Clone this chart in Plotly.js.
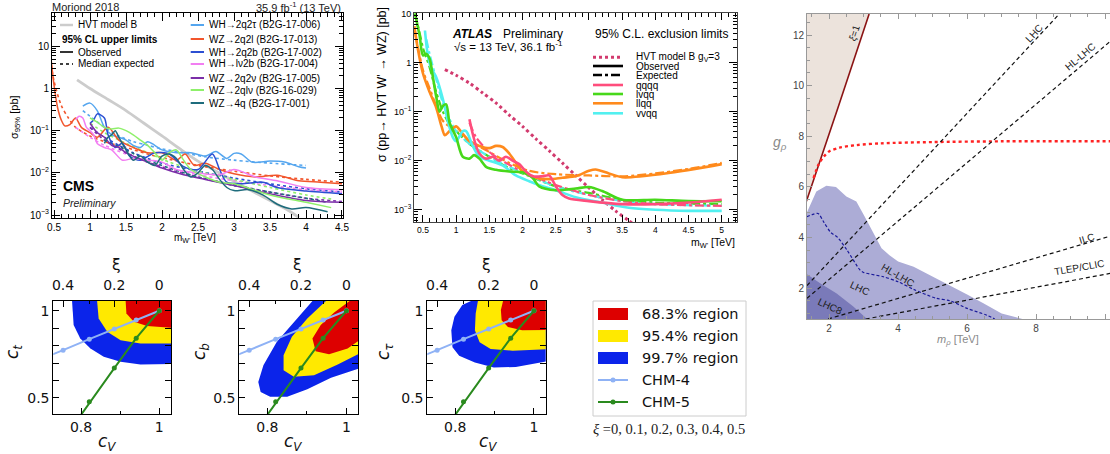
<!DOCTYPE html>
<html><head><meta charset="utf-8">
<script src="https://cdn.plot.ly/plotly-3.0.1.min.js"></script>
<style>html,body{margin:0;padding:0;background:#fff;overflow:hidden}#plot{width:1110px;height:454px}</style>
</head><body><div id="plot"></div>
<script>
// ================= DATA =================
// --- CMS panel (mass in TeV, sigma in pb) ---
const cmsHvtM = [0.82,1.0,1.25,1.5,1.75,2.0,2.25,2.5,2.75,3.0,3.25,3.5,3.75,3.9];
const cmsHvtS = [1.6,1.0,0.55,0.3,0.15,0.075,0.037,0.019,0.011,0.0063,0.0037,0.0022,0.0013,0.00088];

const cms2q2tauObsM = [0.9,1.0,1.1,1.2,1.3,1.4,1.5,1.6,1.7,1.8,1.9,2.0,2.2,2.4,2.6,2.75,2.9,3.0,3.1,3.25,3.5,3.7,3.9,4.0];
const cms2q2tauObsS = [0.38,0.45,0.3,0.12,0.08,0.07,0.06,0.045,0.04,0.055,0.045,0.035,0.03,0.03,0.025,0.032,0.022,0.029,0.028,0.018,0.019,0.018,0.014,0.013];
const cms2q2tauExpM = [0.9,1.0,1.2,1.4,1.6,1.8,2.0,2.3,2.6,3.0,3.5,4.0];
const cms2q2tauExpS = [0.3,0.22,0.12,0.075,0.055,0.045,0.037,0.03,0.024,0.02,0.017,0.015];

const cms2q2lObsM = [0.45,0.5,0.55,0.6,0.65,0.72,0.8,0.88,1.0,1.1,1.25,1.4,1.6,1.8,2.0,2.2,2.32,2.45,2.6,2.8,3.0,3.3,3.6,3.9,4.2,4.5];
const cms2q2lObsS = [7,1.2,0.35,0.18,0.13,0.14,0.2,0.12,0.09,0.07,0.12,0.06,0.04,0.03,0.03,0.02,0.028,0.015,0.017,0.012,0.0095,0.008,0.0088,0.0065,0.006,0.0055];
const cms2q2lExpM = [0.45,0.5,0.6,0.7,0.8,1.0,1.2,1.5,1.8,2.1,2.5,3.0,3.5,4.0,4.5];
const cms2q2lExpS = [5,1.5,0.4,0.2,0.12,0.075,0.055,0.04,0.028,0.021,0.015,0.011,0.0085,0.007,0.006];

const cms2q2bObsM = [1.0,1.05,1.1,1.2,1.25,1.35,1.45,1.55,1.7,1.9,2.1,2.3,2.5,2.7,2.8,2.9,3.1,3.4,3.6,4.0,4.5];
const cms2q2bObsS = [0.15,0.18,0.25,0.2,0.08,0.04,0.05,0.025,0.02,0.03,0.028,0.014,0.012,0.028,0.012,0.006,0.0055,0.006,0.0045,0.0037,0.0032];
const cms2q2bExpM = [1.0,1.2,1.4,1.6,1.8,2.0,2.5,3.0,3.5,4.0,4.5];
const cms2q2bExpS = [0.12,0.07,0.045,0.03,0.022,0.017,0.011,0.0075,0.0055,0.0042,0.0035];

const cmsLv2bObsM = [0.8,0.85,0.9,0.95,1.0,1.05,1.1,1.2,1.3,1.45,1.6,1.8,2.0,2.2,2.5,2.8,3.0,3.3,3.6,4.0,4.5];
const cmsLv2bObsS = [0.18,0.22,0.2,0.12,0.1,0.08,0.05,0.04,0.035,0.02,0.022,0.02,0.018,0.012,0.01,0.009,0.012,0.008,0.0065,0.0045,0.004];
const cmsLv2bExpM = [0.8,1.0,1.2,1.5,1.8,2.1,2.5,3.0,3.5,4.0,4.5];
const cmsLv2bExpS = [0.12,0.07,0.045,0.028,0.018,0.013,0.009,0.0065,0.005,0.004,0.0035];

const cms2q2nuObsM = [1.0,1.1,1.2,1.3,1.4,1.5,1.6,1.8,2.0,2.3,2.6,3.0,3.5,4.0,4.5];
const cms2q2nuObsS = [0.15,0.09,0.07,0.045,0.04,0.03,0.025,0.018,0.013,0.009,0.007,0.005,0.0032,0.0022,0.002];
const cms2q2nuExpM = [1.0,1.2,1.5,1.8,2.1,2.5,3.0,3.5,4.0,4.5];
const cms2q2nuExpS = [0.12,0.06,0.03,0.018,0.012,0.008,0.0052,0.0035,0.0025,0.0021];

const cms2qlnuObsM = [1.0,1.1,1.2,1.3,1.4,1.5,1.6,1.7,1.8,1.9,2.0,2.1,2.2,2.3,2.4,2.6,2.8,3.0,3.5,4.0,4.35];
const cms2qlnuObsS = [0.2,0.16,0.12,0.11,0.115,0.1,0.08,0.06,0.045,0.03,0.02,0.03,0.035,0.02,0.012,0.008,0.006,0.0055,0.003,0.002,0.0015];
const cms2qlnuExpM = [1.0,1.2,1.5,1.8,2.1,2.5,3.0,3.5,4.0,4.35];
const cms2qlnuExpS = [0.15,0.09,0.05,0.03,0.018,0.011,0.007,0.0045,0.003,0.0024];

const cms4qObsM = [1.2,1.25,1.3,1.35,1.4,1.5,1.6,1.7,1.8,1.9,2.0,2.1,2.2,2.3,2.4,2.5,2.6,2.7,2.8,2.9,3.0,3.2,3.4,3.6,3.8,4.0,4.3];
const cms4qObsS = [0.05,0.07,0.08,0.1,0.07,0.035,0.02,0.025,0.018,0.015,0.025,0.028,0.022,0.012,0.008,0.01,0.015,0.012,0.007,0.0045,0.0038,0.004,0.003,0.0018,0.0014,0.0015,0.0012];
const cms4qExpM = [1.2,1.5,1.8,2.1,2.5,3.0,3.5,4.0,4.3];
const cms4qExpS = [0.06,0.035,0.02,0.013,0.008,0.005,0.0035,0.0025,0.002];

const cmsChannelNames = ['WH\u21922q2\u03c4 (B2G-17-006)','WZ\u21922q2l (B2G-17-013)','WH\u21922q2b (B2G-17-002)','WH\u2192l\u03bd2b (B2G-17-004)','WZ\u21922q2\u03bd (B2G-17-005)','WZ\u21922ql\u03bd (B2G-16-029)','WZ\u21924q (B2G-17-001)'];

// --- ATLAS panel ---
const atlasHvtM = [0.83,1.0,1.2,1.4,1.6,1.8,2.0,2.2,2.4,2.6,2.8,3.0,3.2,3.4,3.6,3.8];
const atlasHvtS = [0.72,0.55,0.38,0.24,0.15,0.085,0.05,0.028,0.016,0.009,0.005,0.0028,0.0016,0.00095,0.0006,0.00038];

const atlasQqqqObsM = [1.2,1.25,1.3,1.35,1.45,1.55,1.65,1.75,1.85,1.95,2.05,2.15,2.3,2.4,2.5,2.6,2.7,3.0,3.5,4.0,4.5,5.0];
const atlasQqqqObsS = [0.07,0.035,0.02,0.014,0.011,0.012,0.01,0.012,0.01,0.0085,0.006,0.0048,0.0048,0.005,0.003,0.002,0.0017,0.0015,0.0013,0.0013,0.0014,0.0016];
const atlasQqqqExpM = [1.2,1.3,1.5,1.75,2.0,2.5,3.0,3.5,4.0,5.0];
const atlasQqqqExpS = [0.06,0.03,0.015,0.009,0.006,0.0032,0.002,0.0015,0.0013,0.0012];

const atlasLvqqObsM = [0.38,0.45,0.5,0.55,0.6,0.65,0.7,0.75,0.8,0.85,0.9,1.0,1.1,1.2,1.27,1.35,1.45,1.6,1.8,2.0,2.15,2.25,2.5,2.8,3.0,3.2,3.5,4.0,4.5,5.0];
const atlasLvqqObsS = [10,3.5,1.4,1.5,1.2,0.5,0.2,0.1,0.13,0.14,0.06,0.03,0.012,0.011,0.013,0.011,0.0075,0.0065,0.006,0.0058,0.0045,0.003,0.0025,0.0027,0.0029,0.0024,0.0016,0.0016,0.0015,0.0015];
const atlasLvqqExpM = [0.38,0.45,0.5,0.6,0.7,0.8,0.9,1.0,1.2,1.5,1.8,2.0,2.5,3.0,3.5,4.0,5.0];
const atlasLvqqExpS = [10,4,2,0.8,0.25,0.1,0.055,0.04,0.022,0.012,0.007,0.0055,0.003,0.0022,0.0016,0.0014,0.0013];

const atlasLlqqObsM = [0.37,0.42,0.5,0.6,0.7,0.78,0.83,0.9,1.0,1.1,1.2,1.35,1.5,1.6,1.7,1.8,1.9,2.0,2.2,2.4,2.6,2.8,3.0,3.1,3.3,3.5,3.8,4.2,4.6,5.0];
const atlasLlqqObsS = [5.5,2,0.6,0.25,0.12,0.05,0.033,0.04,0.05,0.035,0.025,0.02,0.018,0.02,0.019,0.014,0.009,0.006,0.0045,0.0042,0.0045,0.0048,0.0062,0.0066,0.0055,0.0046,0.0048,0.0056,0.0068,0.0085];
const atlasLlqqExpM = [0.37,0.5,0.6,0.7,0.8,1.0,1.2,1.5,1.8,2.1,2.5,3.0,3.5,4.0,4.5,5.0];
const atlasLlqqExpS = [5,0.7,0.3,0.13,0.065,0.04,0.025,0.015,0.009,0.0062,0.0053,0.005,0.0048,0.0055,0.0068,0.009];

const atlasVvqqObsM = [0.53,0.57,0.62,0.7,0.8,0.88,0.95,1.0,1.1,1.15,1.25,1.35,1.5,1.7,1.9,2.1,2.3,2.5,2.8,3.2,3.6,4.0,4.5,5.0];
const atlasVvqqObsS = [4.5,1.5,0.8,0.5,0.18,0.06,0.03,0.025,0.04,0.04,0.02,0.012,0.01,0.008,0.005,0.0038,0.003,0.0025,0.0018,0.0014,0.0011,0.001,0.00095,0.00095];
const atlasVvqqExpM = [0.55,0.6,0.7,0.8,0.9,1.0,1.2,1.5,1.8,2.1,2.5,3.0,3.5,4.0,5.0];
const atlasVvqqExpS = [3,1.5,0.45,0.15,0.07,0.04,0.022,0.012,0.0075,0.005,0.003,0.002,0.0015,0.0013,0.0012];

const atlasLegendNames = ['HVT model B g<sub>V</sub>=3','Observed','Expected','qqqq','lvqq','llqq','vvqq'];

// --- Right panel (m_rho [TeV], g_rho) ---
const xiOneM = [1.34,2.25,3.16];
const xiOneG = [5.42,9.1,12.83];
const redDotM = [1.55,1.7,1.85,2.0,2.3,2.8,3.5,5.0,7.0,10.2];
const redDotG = [6.35,6.9,7.2,7.4,7.55,7.65,7.72,7.77,7.8,7.8];
const lhcRegionM = [1.36,1.63,1.92,2.2,2.5,2.79,3.03,3.28,3.52,3.75,4.0,4.45,4.93,5.5,6.0,6.47,7.0,7.6];
const lhcRegionG = [5.0,5.82,6.04,6.0,5.62,5.42,4.83,4.17,3.58,3.3,3.05,2.84,2.51,2.1,1.75,1.4,1.0,0.78];
const lhc8RegionM = [1.36,1.74,2.22,2.71,3.1];
const lhc8RegionG = [2.55,2.19,1.79,1.26,0.78];
const hlDashM = [1.36,1.5,1.68,1.85,2.05,2.25,2.52,2.9,3.0,3.57,4.0,4.45,5.1,5.5,6.0,6.57,6.8];
const hlDashG = [4.82,4.9,4.95,4.6,4.2,4.0,3.5,2.71,2.62,2.45,2.25,1.95,1.6,1.5,1.2,0.93,0.78];
const lineLhcM = [1.36,8.67];   const lineLhcG = [2.1,12.83];
const lineHlM = [1.36,10.14];   const lineHlG = [1.6,11.74];
const lineIlcM = [1.97,10.14];  const lineIlcG = [0.78,4.05];
const lineTlepM = [3.06,10.14]; const lineTlepG = [0.78,2.58];

// --- Bottom panels (c_V vs c_t / c_b / c_tau) ---
const chmXi = [0,0.1,0.2,0.3,0.4,0.5];
const chm4cV = [1,0.941,0.885,0.821,0.754,0.68];
const chm4cF = [1,0.947,0.895,0.837,0.774,0.707];
const chm5cV = [1,0.941,0.885,0.821,0.754,0.68];
const chm5cF = [1,0.843,0.671,0.478,0.258,0.0];
const xiTickCv = [1,0.885,0.754];
const xiTickText = ['0','0.2','0.4'];
const xiMinorCv = [0.941,0.821];

const ctBlueX = [0.777,0.781,0.798,0.824,0.858,0.901,0.952,1.032];
const ctBlueY = [1.056,0.918,0.841,0.784,0.736,0.707,0.692,0.697];
const ctYellowX = [0.841,0.845,0.867,0.901,0.952,1.032];
const ctYellowY = [1.056,0.956,0.879,0.831,0.812,0.812];
const ctRedX = [0.914,0.916,0.935,0.969,1.032];
const ctRedY = [1.056,0.985,0.937,0.912,0.902];

const cbBlueX = [0.914,0.867,0.824,0.790,0.777,0.783,0.807,0.850,0.901,0.961,1.033];
const cbBlueY = [1.056,0.937,0.822,0.688,0.592,0.534,0.506,0.506,0.550,0.615,0.669];
const cbYellowX = [0.948,0.901,0.862,0.841,0.841,0.867,0.918,0.978,1.033];
const cbYellowY = [1.056,0.956,0.851,0.745,0.659,0.621,0.630,0.692,0.755];
const cbRedX = [1.008,0.969,0.935,0.914,0.922,0.956,1.003,1.033];
const cbRedY = [1.056,0.990,0.918,0.841,0.768,0.751,0.784,0.831];

const ctauBlueX = [0.844,0.818,0.798,0.790,0.793,0.810,0.850,0.898,0.954,1.032];
const ctauBlueY = [1.06,1.033,0.965,0.888,0.791,0.742,0.703,0.674,0.678,0.709];
const ctauYellowX = [0.858,0.852,0.850,0.862,0.890,0.946,1.032];
const ctauYellowY = [1.06,0.984,0.888,0.820,0.781,0.771,0.779];
const ctauRedX = [0.922,0.916,0.918,0.934,0.970,1.032];
const ctauRedY = [1.06,1.004,0.946,0.907,0.888,0.891];

const regionNames = ['68.3% region','95.4% region','99.7% region','CHM-4','CHM-5'];

// ================= BUILD =================
const W = 1110, H = 454;
const px = x => x / W, py = y => 1 - y / H;
const dom = (a, b) => [a / W, b / W];
const domY = (top, bottom) => [1 - bottom / H, 1 - top / H];

const traces = [];
function line(xa, ya, x, y, color, width, dash, shape) {
  traces.push({type:'scatter', mode:'lines', x, y, xaxis:xa, yaxis:ya, hoverinfo:'skip', showlegend:false,
    line:{color, width, dash: dash || 'solid', shape: shape || 'linear', smoothing: 0.8}});
}
function poly(xa, ya, x, y, color) {
  traces.push({type:'scatter', mode:'lines', x, y, xaxis:xa, yaxis:ya, fill:'toself', fillcolor:color,
    line:{width:0, color:color}, hoverinfo:'skip', showlegend:false});
}

// CMS
const cmsCols = ['#55a6ef','#f2552c','#2c4fd2','#f27ef2','#7b2ea8','#8ef06a','#1e6c7c'];
line('x','y',cmsHvtM,cmsHvtS,'#cccccc',2.8,'solid','spline');
const cmsObs = [[cms2q2tauObsM,cms2q2tauObsS],[cms2q2lObsM,cms2q2lObsS],[cms2q2bObsM,cms2q2bObsS],[cmsLv2bObsM,cmsLv2bObsS],[cms2q2nuObsM,cms2q2nuObsS],[cms2qlnuObsM,cms2qlnuObsS],[cms4qObsM,cms4qObsS]];
const cmsExp = [[cms2q2tauExpM,cms2q2tauExpS],[cms2q2lExpM,cms2q2lExpS],[cms2q2bExpM,cms2q2bExpS],[cmsLv2bExpM,cmsLv2bExpS],[cms2q2nuExpM,cms2q2nuExpS],[cms2qlnuExpM,cms2qlnuExpS],[cms4qExpM,cms4qExpS]];
cmsExp.forEach((d,i)=>line('x','y',d[0],d[1],cmsCols[i],1.6,'dot','spline'));
cmsObs.forEach((d,i)=>line('x','y',d[0],d[1],cmsCols[i],1.5,'solid','spline'));

// ATLAS
const atCols = {q:'#ff4d7c', l:'#47d81a', o:'#ff8a1c', v:'#52f0f0', h:'#d23a6e'};
line('x2','y2',atlasHvtM,atlasHvtS,atCols.h,3,'dot','spline');
line('x2','y2',atlasLlqqExpM,atlasLlqqExpS,atCols.o,2.2,'dashdot','spline');
line('x2','y2',atlasLvqqExpM,atlasLvqqExpS,atCols.l,2.2,'dashdot','spline');
line('x2','y2',atlasVvqqExpM,atlasVvqqExpS,atCols.v,2.2,'dashdot','spline');
line('x2','y2',atlasQqqqExpM,atlasQqqqExpS,atCols.q,2.2,'dashdot','spline');
line('x2','y2',atlasLlqqObsM,atlasLlqqObsS,atCols.o,2.6,'solid','spline');
line('x2','y2',atlasVvqqObsM,atlasVvqqObsS,atCols.v,2.6,'solid','spline');
line('x2','y2',atlasLvqqObsM,atlasLvqqObsS,atCols.l,2.6,'solid','spline');
line('x2','y2',atlasQqqqObsM,atlasQqqqObsS,atCols.q,2.6,'solid','spline');

// Right panel
poly('x3','y3', xiOneM.concat([xiOneM[xiOneM.length-1], 1.2, 1.2]), xiOneG.concat([13.5, 13.5, xiOneG[0]]), '#ece3dc');
poly('x3','y3', lhcRegionM.concat([lhcRegionM[lhcRegionM.length-1], 1.2, 1.2]), lhcRegionG.concat([0.5, 0.5, lhcRegionG[0]]), '#acacd6');
poly('x3','y3', lhc8RegionM.concat([lhc8RegionM[lhc8RegionM.length-1], 1.2, 1.2]), lhc8RegionG.concat([0.5, 0.5, lhc8RegionG[0]]), '#7a7ab9');
line('x3','y3', xiOneM, xiOneG, '#8b1414', 1.6, 'solid', 'spline');
line('x3','y3', redDotM, redDotG, '#ff2222', 2.4, 'dot', 'spline');
line('x3','y3', hlDashM, hlDashG, '#1a1a9a', 1.2, '3px,2px', 'spline');
line('x3','y3', lineLhcM, lineLhcG, '#111', 1.2, '4px,3px');
line('x3','y3', lineHlM, lineHlG, '#111', 1.2, '4px,3px');
line('x3','y3', lineIlcM, lineIlcG, '#111', 1.2, '4px,3px');
line('x3','y3', lineTlepM, lineTlepG, '#111', 1.2, '4px,3px');

// Bottom panels
const RED='#dd0000', YEL='#ffe900', BLU='#0b24ea', CHM4='#8fb2f5', CHM5='#2a8a1e';
const panels = [
  ['x4','y4',ctBlueX,ctBlueY,ctYellowX,ctYellowY,ctRedX,ctRedY,'x7'],
  ['x5','y5',cbBlueX,cbBlueY,cbYellowX,cbYellowY,cbRedX,cbRedY,'x8'],
  ['x6','y6',ctauBlueX,ctauBlueY,ctauYellowX,ctauYellowY,ctauRedX,ctauRedY,'x9']
];
panels.forEach(p=>{
  const [xa,ya,bx,by,yx,yy,rx,ry,top] = p;
  const close = (xs,ys)=>[xs.concat([1.1,1.1,xs[0]]), ys.concat([ys[ys.length-1],1.2,1.2])];
  let c = close(bx,by); poly(xa,ya,c[0],c[1],BLU);
  c = close(yx,yy); poly(xa,ya,c[0],c[1],YEL);
  c = close(rx,ry); poly(xa,ya,c[0],c[1],RED);
  traces.push({type:'scatter',mode:'lines+markers',x:chm4cV,y:chm4cF,xaxis:xa,yaxis:ya,line:{color:CHM4,width:2},marker:{color:CHM4,size:5},hoverinfo:'skip',showlegend:false,cliponaxis:true});
  traces.push({type:'scatter',mode:'lines+markers',x:chm5cV,y:chm5cF,xaxis:xa,yaxis:ya,line:{color:CHM5,width:2},marker:{color:CHM5,size:5},hoverinfo:'skip',showlegend:false,cliponaxis:true});
  traces.push({type:'scatter',mode:'markers',x:[0.9],y:[5],xaxis:top,yaxis:ya,marker:{opacity:0},hoverinfo:'skip',showlegend:false});
});

// ================= LAYOUT =================
function decadeMinor(lo, hi){ const v=[]; for(let e=lo;e<=hi;e++){ for(let k=2;k<=9;k++) v.push(k*Math.pow(10,e)); } return v; }
const supT = ['10<sup>\u22123</sup>','10<sup>\u22122</sup>','10<sup>\u22121</sup>','1','10'];
const logVals = [0.001,0.01,0.1,1,10];

const frameBase = {showline:true, linecolor:'#000', linewidth:1, mirror:'allticks', ticks:'inside', tickcolor:'#000', showgrid:false, zeroline:false};
const FS = 'Liberation Sans, Arial, sans-serif';
const DJ = 'DejaVu Sans, sans-serif';
const XR = [0.729,1.03];

const layout = {
  width:W, height:H, margin:{l:0,r:0,t:0,b:0}, paper_bgcolor:'#fff', plot_bgcolor:'rgba(0,0,0,0)',
  showlegend:false, font:{family:FS, color:'#000'},
  xaxis: Object.assign({}, frameBase, {domain:dom(52,343), anchor:'y', range:[0.472,4.514], tickmode:'linear', tick0:0.5, dtick:0.5, ticklen:8,
    tickfont:{size:10}, minor:{ticks:'inside', ticklen:4, tick0:0, dtick:0.1, tickcolor:'#000'}}),
  yaxis: Object.assign({}, frameBase, {domain:domY(13,218), anchor:'x', type:'log', range:[-3.07,1.79], tickmode:'array', tickvals:logVals, ticktext:supT, ticklen:8,
    tickfont:{size:10}, minor:{ticks:'inside', ticklen:4, tickmode:'array', tickvals:decadeMinor(-3,1), tickcolor:'#000'}}),
  xaxis2: Object.assign({}, frameBase, {domain:dom(414,737), anchor:'y2', range:[0.365,5.23], tickmode:'linear', tick0:0.5, dtick:0.5, ticklen:7,
    tickfont:{size:8.5}, minor:{ticks:'inside', ticklen:4, tick0:0, dtick:0.1, tickcolor:'#000'}, linecolor:'#444'}),
  yaxis2: Object.assign({}, frameBase, {domain:domY(13,222), anchor:'x2', type:'log', range:[-3.25,1.01], tickmode:'array', tickvals:logVals, ticktext:supT, ticklen:8,
    tickfont:{size:9}, minor:{ticks:'inside', ticklen:4, tickmode:'array', tickvals:decadeMinor(-4,0), tickcolor:'#000'}, linecolor:'#444'}),
  xaxis3: {domain:dom(807,1110), anchor:'y3', range:[1.36,10.14], showline:true, linecolor:'#999', linewidth:1, mirror:'ticks', ticks:'inside', ticklen:5, tickcolor:'#999',
    tickmode:'linear', tick0:2, dtick:2, showgrid:false, zeroline:false, tickfont:{size:10, color:'#444'}, minor:{ticks:'inside', ticklen:3, tick0:0, dtick:0.5, tickcolor:'#999'}},
  yaxis3: {domain:domY(14,319), anchor:'x3', range:[0.78,12.83], showline:true, linecolor:'#999', linewidth:1, mirror:false, ticks:'inside', ticklen:5, tickcolor:'#999',
    tickmode:'linear', tick0:2, dtick:2, showgrid:false, zeroline:false, tickfont:{size:10, color:'#444'}, minor:{ticks:'inside', ticklen:3, tick0:0, dtick:0.5, tickcolor:'#999'}},
  annotations:[], shapes:[]
};
const bx = [[53.3,171],[239.3,358.3],[427.3,545.7]];
const botNames = [['x4','y4','x7'],['x5','y5','x8'],['x6','y6','x9']];
botNames.forEach((n,i)=>{
  const xn = 'xaxis'+n[0].slice(1), yn = 'yaxis'+n[1].slice(1), tn = 'xaxis'+n[2].slice(1);
  layout[xn] = Object.assign({}, frameBase, {domain:dom(bx[i][0],bx[i][1]), anchor:n[1], range:XR, mirror:false, tickmode:'array', tickvals:[0.8,1], ticktext:['0.8','1'],
    ticklen:6, tickfont:{size:14, family:DJ, color:'#111'}, minor:{ticks:'inside', ticklen:3, tickmode:'array', tickvals:[0.9], tickcolor:'#000'}});
  layout[yn] = Object.assign({}, frameBase, {domain:domY(301,414.3), anchor:n[0], range:[0.406,1.056], tickmode:'array', tickvals:[0.5,1], ticktext:['0.5','1'],
    ticklen:6, tickfont:{size:14, family:DJ, color:'#111'}, minor:{ticks:'inside', ticklen:3, tickmode:'array', tickvals:[0.6,0.7,0.8,0.9], tickcolor:'#000'}});
  layout[tn] = {overlaying:n[0], anchor:n[1], side:'top', range:XR, showline:true, linecolor:'#000', linewidth:1, ticks:'inside', ticklen:6, tickcolor:'#000', showgrid:false, zeroline:false,
    tickmode:'array', tickvals:xiTickCv, ticktext:xiTickText, tickfont:{size:14, family:DJ, color:'#111'}, ticklabelstandoff:4,
    minor:{ticks:'inside', ticklen:3, tickmode:'array', tickvals:xiMinorCv, tickcolor:'#000'}};
});

// annotations helpers
function A(x, y, text, o){ o = o||{}; layout.annotations.push({xref:'paper', yref:'paper', x:px(x), y:py(y), text, showarrow:false,
  xanchor:o.xa||'left', yanchor:o.ya||'middle', textangle:o.ang||0, font:{size:o.s||10, family:o.f||FS, color:o.c||'#000'}}); }
function AD(xa, ya, x, y, text, ang, o){ o=o||{}; layout.annotations.push({xref:xa, yref:ya, x, y, text, showarrow:false, textangle:ang, xanchor:'center', yanchor:'middle', font:{size:o.s||10, family:FS, color:o.c||'#222'}}); }
function S(x0, x1, y, color, width, dash){ layout.shapes.push({type:'line', xref:'paper', yref:'paper', x0:px(x0), x1:px(x1), y0:py(y), y1:py(y), line:{color, width, dash:dash||'solid'}}); }
function R(x0, y0, x1, y1, fill, lc){ layout.shapes.push({type:'rect', xref:'paper', yref:'paper', x0:px(x0), x1:px(x1), y0:py(y0), y1:py(y1), fillcolor:fill, line:{color:lc||fill, width:lc?1:0}}); }
function C(x, y, r, color){ layout.shapes.push({type:'circle', xref:'paper', yref:'paper', x0:px(x-r), x1:px(x+r), y0:py(y+r), y1:py(y-r), fillcolor:color, line:{color, width:0}}); }

// CMS text
A(50,7,'Moriond 2018',{s:11,c:'#222'});
A(343,7,'35.9 fb<sup>-1</sup> (13 TeV)',{xa:'right',s:11,c:'#222'});
S(60,73,25,'#cccccc',2.5); A(76,25,'HVT model B',{s:10});
A(60,39,'<b>95% CL upper limits</b>',{s:10});
S(60,73,52,'#000',1.6); A(76,52,'Observed',{s:10});
S(60,73,64,'#000',1.6,'dot'); A(76,64,'Median expected',{s:10});
const cmsLegY = [25,39,52,64,78,90,103];
cmsChannelNames.forEach((t,i)=>{ S(190.7,204,cmsLegY[i],cmsCols[i],2); A(206.7,cmsLegY[i],t,{s:10}); });
A(61,186,'<b>CMS</b>',{s:14});
A(61,203,'<i>Preliminary</i>',{s:10.5,c:'#222'});
A(15,117,'\u03c3<sub>95%</sub> [pb]',{xa:'center',ang:-90,s:11});
A(195,238,"m<sub>W'</sub> [TeV]",{xa:'center',s:10});

// ATLAS text
A(450,34.3,'<b><i>ATLAS</i></b>',{s:12});
A(501,34.3,'Preliminary',{s:12});
A(452,46.5,'\u221As = 13 TeV, 36.1 fb<sup>-1</sup>',{s:11.5});
A(593,34.3,'95% C.L. exclusion limits',{s:12});
const atLegY = [57.3,66,75,85,94,103.3,113.3];
const atLegStyle = [[atCols.h,3,'dot'],['#000',2.6,'solid'],['#000',2.6,'dashdot'],[atCols.q,2.6,'solid'],[atCols.l,2.6,'solid'],[atCols.o,2.6,'solid'],[atCols.v,2.6,'solid']];
atlasLegendNames.forEach((t,i)=>{ S(593,623,atLegY[i],atLegStyle[i][0],atLegStyle[i][1],atLegStyle[i][2]); A(634,atLegY[i],t,{s:10}); });
A(737,243,"m<sub>W'</sub> [TeV]",{xa:'right',s:10.5});
A(382,85,"\u03c3 (pp\u2192 HVT W' \u2192 WZ) [pb]",{xa:'center',ang:-90,s:12.5});

// Right panel text
A(780,143,'<i>g<sub>\u03c1</sub></i>',{xa:'center',s:14,c:'#8a8a8a'});
A(958,340,'<i>m<sub>\u03c1</sub></i> [TeV]',{xa:'center',s:11,c:'#8a8a8a'});
AD('x3','y3',2.75,12.07,'<i>\u03be</i>=1',-72,{s:10});
AD('x3','y3',7.93,12.07,'LHC',-47,{s:10});
AD('x3','y3',9.28,11.16,'HL-LHC',-40,{s:10});
AD('x3','y3',9.47,3.97,'ILC',-16,{s:10});
AD('x3','y3',9.25,2.82,'TLEP/CLIC',-10,{s:10});
AD('x3','y3',2.9,2.0,'LHC',25,{s:10});
AD('x3','y3',4.01,2.51,'HL-LHC',30,{s:10});
AD('x3','y3',2.03,1.26,'LHC8',25,{s:10});

// Bottom panel text
const xiX = [116,297,486], cvX = [107,293,488], ytX = [13,200,384];
const yTitles = ['<i>c<sub>t</sub></i>','<i>c<sub>b</sub></i>','<i>c<sub>\u03c4</sub></i>'];
[0,1,2].forEach(i=>{
  A(xiX[i],265,'\u03be',{xa:'center',s:15.5,f:DJ,c:'#111'});
  A(cvX[i],442,'<i>c<sub>V</sub></i>',{xa:'center',s:17,f:DJ,c:'#111'});
  A(ytX[i],352,yTitles[i],{xa:'center',ang:-90,s:17,f:DJ,c:'#111'});
});
// legend box
R(593,301,746,416,'#fff','#cccccc');
R(598,308,628,320,RED); A(640,314,regionNames[0],{s:14.5,f:DJ,c:'#111'});
R(598,330,628,342,YEL); A(640,336,regionNames[1],{s:14.5,f:DJ,c:'#111'});
R(598,352,628,364,BLU); A(640,358,regionNames[2],{s:14.5,f:DJ,c:'#111'});
S(598,628,380,CHM4,2); C(613,380,2.5,CHM4); A(640,380,regionNames[3],{s:14.5,f:DJ,c:'#111'});
S(598,628,402,CHM5,2); C(613,402,2.5,CHM5); A(640,402,regionNames[4],{s:14.5,f:DJ,c:'#111'});
A(669,429,'<i>\u03be</i> =' + chmXi.join(', '),{xa:'center',s:14.5,f:'Liberation Serif, serif',c:'#222'});

Plotly.newPlot('plot', traces, layout, {staticPlot:true, displayModeBar:false});
</script></body></html>
